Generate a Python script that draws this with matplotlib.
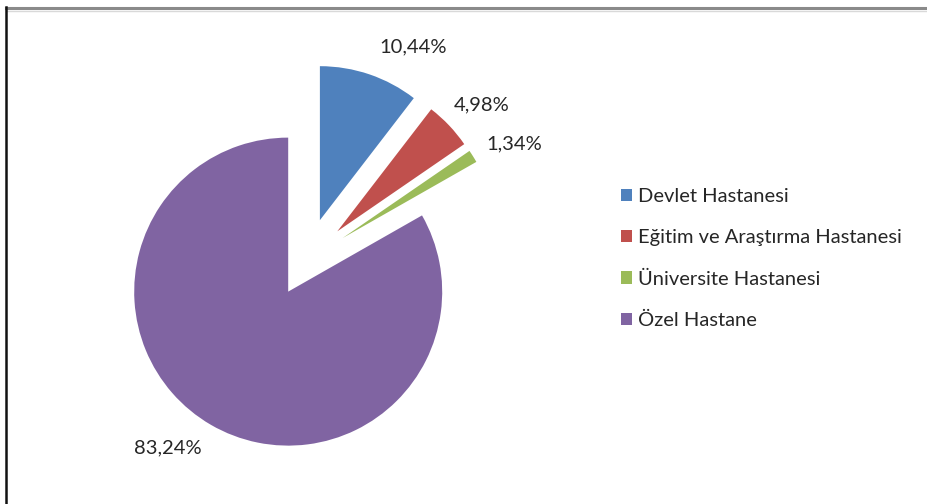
import matplotlib
matplotlib.use("Agg")
import matplotlib.pyplot as plt
from matplotlib.lines import Line2D

# Hospital type shares (%)
categories = ["Devlet Hastanesi", "Eğitim ve Araştırma Hastanesi",
              "Üniversite Hastanesi", "Özel Hastane"]
shares = [10.44, 4.98, 1.34, 83.24]
value_labels = ["10,44%", "4,98%", "1,34%", "83,24%"]

colors = ["#4F81BD", "#C0504D", "#9BBB59", "#8064A2"]

W, H = 928, 504
RADIUS = 154
# slice offsets as a fraction of the radius (pie() takes them in data units)
explode_frac = [0.28, 0.28, 0.28, 0.23]
explode = [f * RADIUS for f in explode_frac]

fig = plt.figure(figsize=(W / 100, H / 100), dpi=100)
fig.patch.set_facecolor("white")
ax = fig.add_axes([0, 0, 1, 1])

font = ["Lato", "DejaVu Sans"]
FS = 14.5

wedges, _ = ax.pie(shares, colors=colors, explode=explode, startangle=90,
                   counterclock=False, center=(306, H - 261), radius=RADIUS,
                   wedgeprops=dict(linewidth=0))

# pixel-sized data space over the whole figure
ax.set_xlim(0, W)
ax.set_ylim(0, H)
ax.set_aspect("equal")
ax.axis("off")

# value labels outside the slices
label_pos = [(413, 47), (482, 105), (514, 144), (168, 448)]
for txt, (x, y) in zip(value_labels, label_pos):
    ax.text(x, H - y, txt, ha="center", va="center", fontsize=FS,
            color="#262626", family=font)

leg = ax.legend(wedges, categories, loc="upper left",
                bbox_to_anchor=(605 / W, 1 - 172 / H), frameon=False,
                handlelength=0.55, handleheight=0.55, handletextpad=0.3,
                labelspacing=1.2, borderpad=0.3,
                prop=dict(family=font, size=FS))
for t in leg.get_texts():
    t.set_color("#262626")

# chart frame edges
fig.add_artist(Line2D([6 / W, 1], [1 - 8 / H, 1 - 8 / H], transform=fig.transFigure,
                      color="#8a8a8a", linewidth=2.2))
fig.add_artist(Line2D([6 / W, 1], [1 - 10.5 / H, 1 - 10.5 / H], transform=fig.transFigure,
                      color="#d9d9d9", linewidth=1.0))
fig.add_artist(Line2D([6 / W, 6 / W], [0, 1 - 7 / H], transform=fig.transFigure,
                      color="#111111", linewidth=1.8))

fig.savefig("out.png", dpi=100)
